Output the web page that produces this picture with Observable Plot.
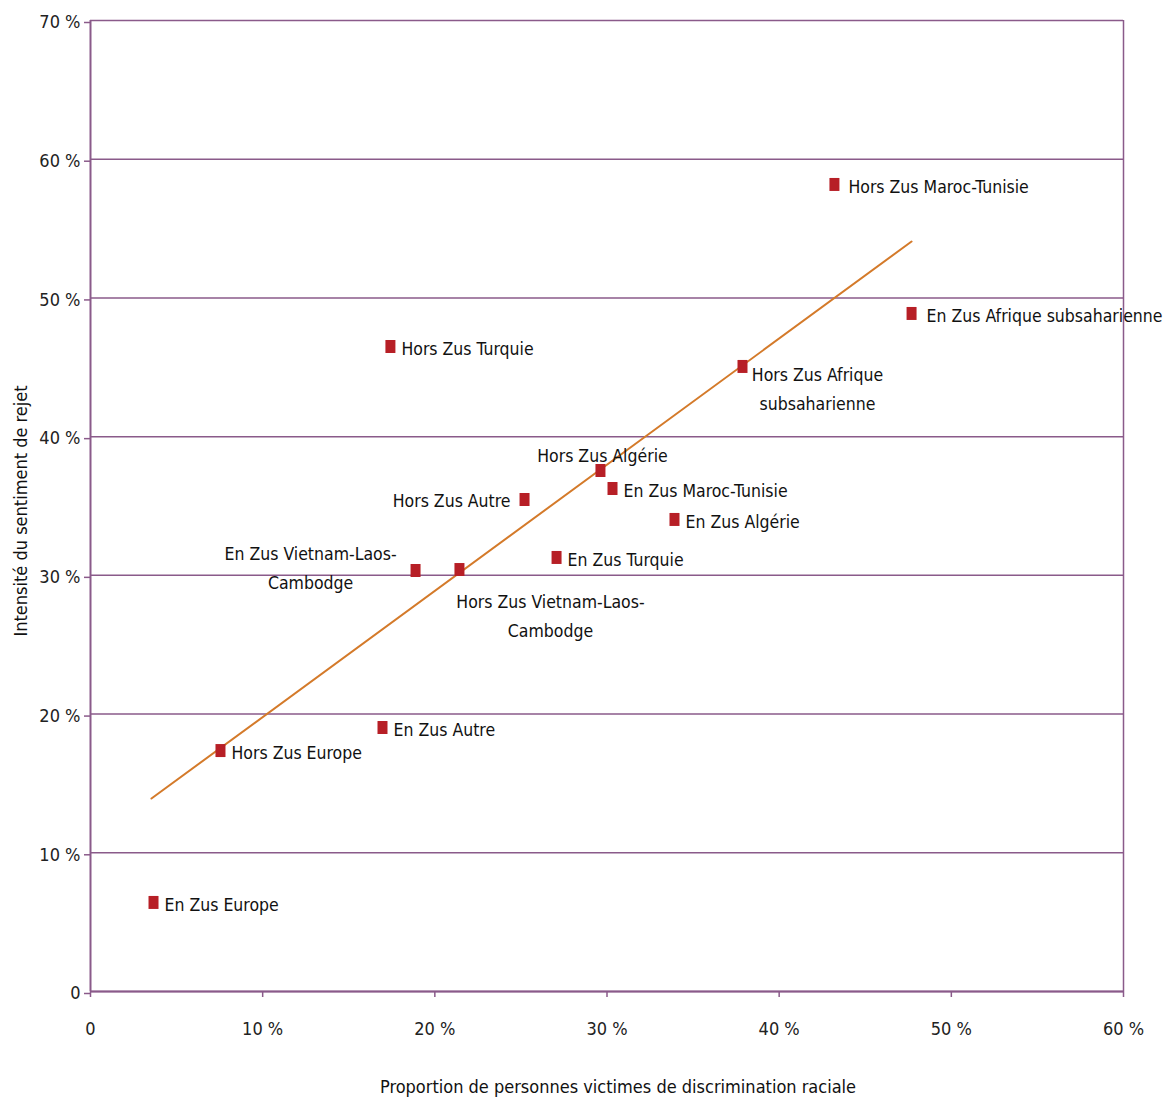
<!DOCTYPE html>
<html>
<head>
<meta charset="utf-8">
<script src="https://cdn.jsdelivr.net/npm/d3@7"></script>
<script src="https://cdn.jsdelivr.net/npm/@observablehq/plot@0.6"></script>
<style>
  body { margin: 0; background: #fff; }
  svg { font-family: "DejaVu Sans Condensed", "Roboto", sans-serif; }
</style>
</head>
<body>
<div id="chart"></div>
<script>
// ---- Data (percent values) ----
const names = [
  "En Zus Europe",
  "Hors Zus Europe",
  "En Zus Autre",
  "En Zus Vietnam-Laos-\nCambodge",
  "Hors Zus Vietnam-Laos-\nCambodge",
  "Hors Zus Autre",
  "En Zus Turquie",
  "Hors Zus Algérie",
  "En Zus Maroc-Tunisie",
  "En Zus Algérie",
  "Hors Zus Afrique\nsubsaharienne",
  "Hors Zus Turquie",
  "Hors Zus Maroc-Tunisie",
  "En Zus Afrique subsaharienne"
];
const discrimination = [3.66, 7.55, 16.96, 18.88, 21.43, 25.21, 27.07, 29.62, 30.32, 33.92, 37.87, 17.42, 43.21, 47.69];
const rejet = [6.42, 17.37, 19.03, 30.35, 30.42, 35.47, 31.29, 37.56, 36.26, 34.03, 45.06, 46.50, 58.18, 48.88];

const trendX = [3.54, 47.69];
const trendY = [13.91, 54.07];

const xTicks = [0, 10, 20, 30, 40, 50, 60];
const yTicks = [0, 10, 20, 30, 40, 50, 60, 70];

const xLabel = "Proportion de personnes victimes de discrimination raciale";
const yLabel = "Intensité du sentiment de rejet";

// ---- Build tables ----
const points = names.map((n, i) => ({name: n, x: discrimination[i], y: rejet[i]}));
const trend = trendX.map((x, i) => ({x, y: trendY[i]}));

// label placement (layout only)
const placement = {
  "En Zus Vietnam-Laos-\nCambodge": {textAnchor: "middle", dx: -105, dy: -5},
  "Hors Zus Vietnam-Laos-\nCambodge": {textAnchor: "middle", dx: 91, dy: 44},
  "Hors Zus Autre": {textAnchor: "end", dx: -14, dy: -2},
  "Hors Zus Algérie": {textAnchor: "middle", dx: 2, dy: -18},
  "Hors Zus Afrique\nsubsaharienne": {textAnchor: "middle", dx: 75, dy: 20},
  "Hors Zus Maroc-Tunisie": {textAnchor: "start", dx: 14, dy: -1},
  "En Zus Afrique subsaharienne": {textAnchor: "start", dx: 15, dy: -1}
};
const defaultPlacement = {textAnchor: "start", dx: 11, dy: -1};

const purple = "#8a5a8a";
const markerColor = "#b71f26";
const trendColor = "#d47a2a";

const squareSymbol = {
  draw(context) {
    context.rect(-5, -6.5, 10, 13);
  }
};

const fmt = d => d === 0 ? "0" : `${d} %`;

const labelMarks = points.map(p => {
  const pl = placement[p.name] || defaultPlacement;
  return Plot.text([p], {
    x: "x", y: "y", text: "name",
    textAnchor: pl.textAnchor, dx: pl.dx, dy: pl.dy,
    lineHeight: 1.67, fontSize: 17.5, fill: "#111"
  });
});

const chart = Plot.plot({
  width: 1164,
  height: 1097,
  marginLeft: 90,
  marginRight: 41,
  marginTop: 20,
  marginBottom: 106,
  style: {fontSize: "18px", background: "#fff"},
  x: {domain: [0, 60]},
  y: {domain: [0, 70]},
  marks: [
    Plot.ruleY(yTicks, {stroke: purple, strokeWidth: 1.5}),
    Plot.ruleX([0], {stroke: purple, strokeWidth: 2}),
    Plot.ruleX([60], {stroke: purple, strokeWidth: 1.5}),
    Plot.ruleY([0], {stroke: purple, strokeWidth: 2}),
    Plot.axisY(yTicks, {tickFormat: fmt, tickSize: 6, tickPadding: 4, dy: 2, stroke: purple, strokeWidth: 1.5, fill: "#222", label: null}),
    Plot.axisX(xTicks, {tickFormat: fmt, tickSize: 6, tickPadding: 25, stroke: purple, strokeWidth: 1.5, fill: "#222", label: null}),
    Plot.line(trend, {x: "x", y: "y", stroke: trendColor, strokeWidth: 2}),
    Plot.dot(points, {x: "x", y: "y", symbol: squareSymbol, fill: markerColor, stroke: "none", r: 5}),
    ...labelMarks,
    Plot.text([xLabel], {text: d => d, frameAnchor: "bottom", textAnchor: "middle", lineAnchor: "middle", dx: 11, dy: 96, fontSize: 18, fill: "#111"}),
    Plot.text([yLabel], {text: d => d, frameAnchor: "left", textAnchor: "middle", lineAnchor: "middle", rotate: -90, dx: -69, dy: 5, fontSize: 18, fill: "#111"})
  ]
});

document.getElementById("chart").appendChild(chart);
</script>
</body>
</html>
